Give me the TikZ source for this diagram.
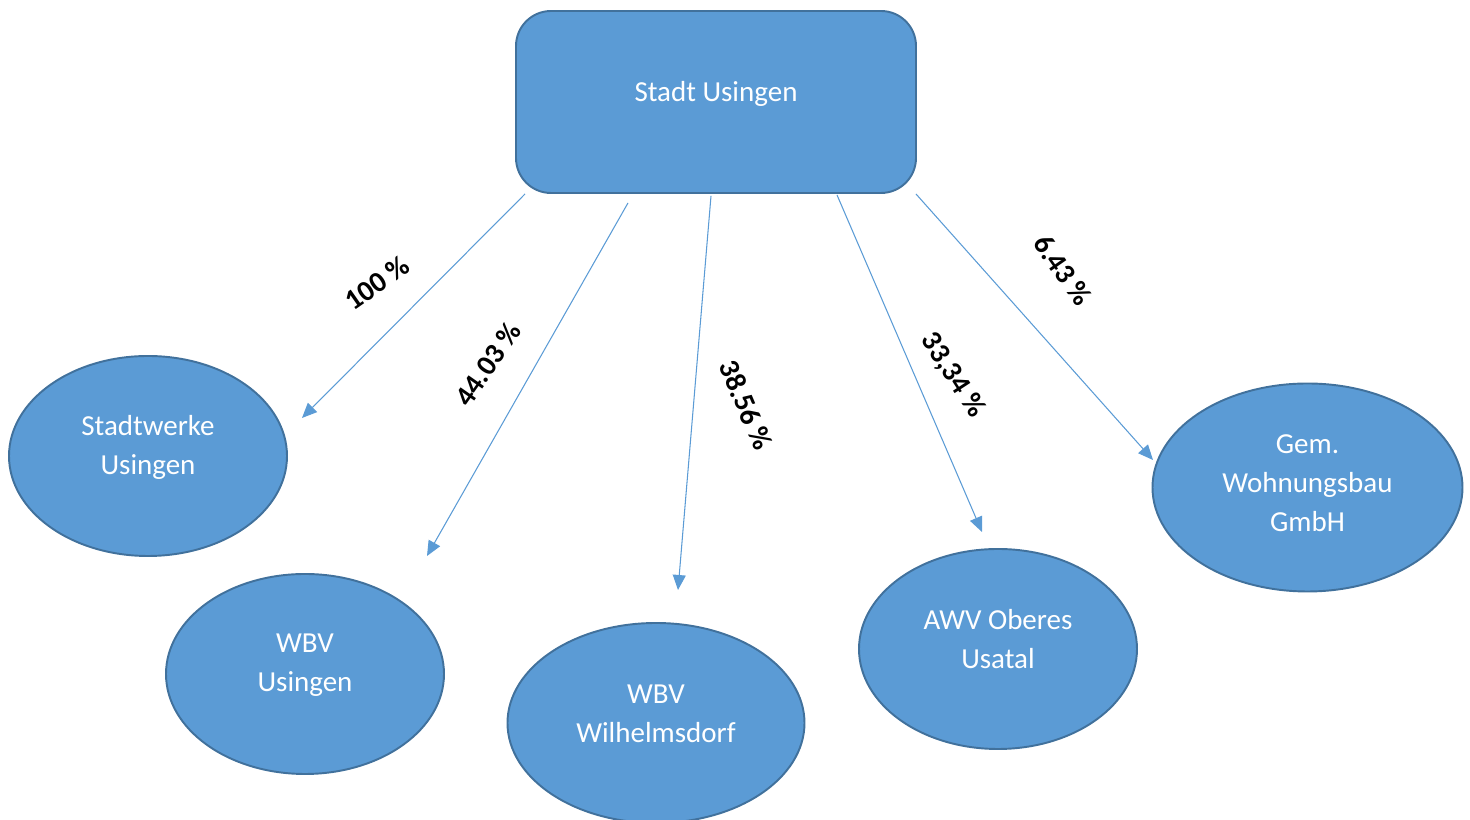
\documentclass[tikz,border=0pt]{standalone}
\usepackage{fontspec}
\setmainfont{Carlito}
\usetikzlibrary{shapes.geometric,arrows.meta}
\definecolor{orgfill}{HTML}{5B9BD5}
\definecolor{orgline}{HTML}{41719C}
\begin{document}
\begin{tikzpicture}[
  org/.style={draw=orgline,line width=1.1pt,fill=orgfill,rounded corners=0.7cm,minimum width=8cm,minimum height=3.64cm},
  unit/.style={ellipse,draw=orgline,line width=1.1pt,fill=orgfill,inner sep=0pt,minimum width=5.56cm,minimum height=4cm},
  unittext/.style={text=white,align=center,font=\fontsize{16.5}{22.2}\selectfont},
  share/.style={font=\bfseries\fontsize{16.5}{19}\selectfont},
  link/.style={draw=orgfill,line width=0.6pt,-{Triangle[length=0.3cm,width=0.26cm]}}
]
\useasboundingbox (0,0) rectangle (29.4,16.4);

\node[org] (usingen) at (14.32,14.36) {};
\node[unittext] (usingen-t) at ([yshift=0.16cm]usingen.center) {Stadt Usingen};

\node[unit] (stadtwerke) at (2.96,7.28) {};
\node[unittext] (stadtwerke-t) at ([yshift=0.17cm]stadtwerke.center) {Stadtwerke\\Usingen};
\node[unit] (wbvus) at (6.10,2.92) {};
\node[unittext] (wbvus-t) at ([yshift=0.17cm]wbvus.center) {WBV\\Usingen};
\node[unit,minimum width=5.94cm] (wbvwil) at (13.12,1.94) {};
\node[unittext] (wbvwil-t) at ([yshift=0.19cm]wbvwil.center) {WBV\\Wilhelmsdorf};
\node[unit] (awv) at (19.96,3.42) {};
\node[unittext] (awv-t) at ([yshift=0.2cm]awv.center) {AWV Oberes\\Usatal};
\node[unit,minimum width=6.2cm,minimum height=4.16cm] (gem) at (26.15,6.65) {};
\node[unittext] (gem-t) at ([yshift=0.08cm]gem.center) {Gem.\\Wohnungsbau\\GmbH};

% arrow tips
\coordinate (tip1) at (6.04,8.04);
\coordinate (tip2) at (8.54,5.28);
\coordinate (tip3) at (13.56,4.60);
\coordinate (tip4) at (19.64,5.76);
\coordinate (tip5) at (23.06,7.20);

\draw[link] ([xshift=0.2cm]usingen.south west) -- (tip1);
\draw[link] ([xshift=-1.76cm,yshift=-0.18cm]usingen.south) -- (tip2);
\draw[link] ([xshift=-0.1cm,yshift=-0.04cm]usingen.south) -- (tip3);
\draw[link] ([xshift=2.42cm,yshift=-0.02cm]usingen.south) -- (tip4);
\draw[link] ([xshift=-0.02cm]usingen.south east) -- (tip5);

\node[share,rotate=35] (s100) at (7.54,10.74) {100 \%};
\node[share,rotate=55] (s4403) at (9.76,9.12) {44.03 \%};
\node[share,rotate=-67] (s3856) at (14.92,8.30) {38.56 \%};
\node[share,rotate=-57] (s3334) at (19.06,8.90) {33,34 \%};
\node[share,rotate=-55] (s643) at (21.26,11.00) {6.43 \%};
\end{tikzpicture}
\end{document}
